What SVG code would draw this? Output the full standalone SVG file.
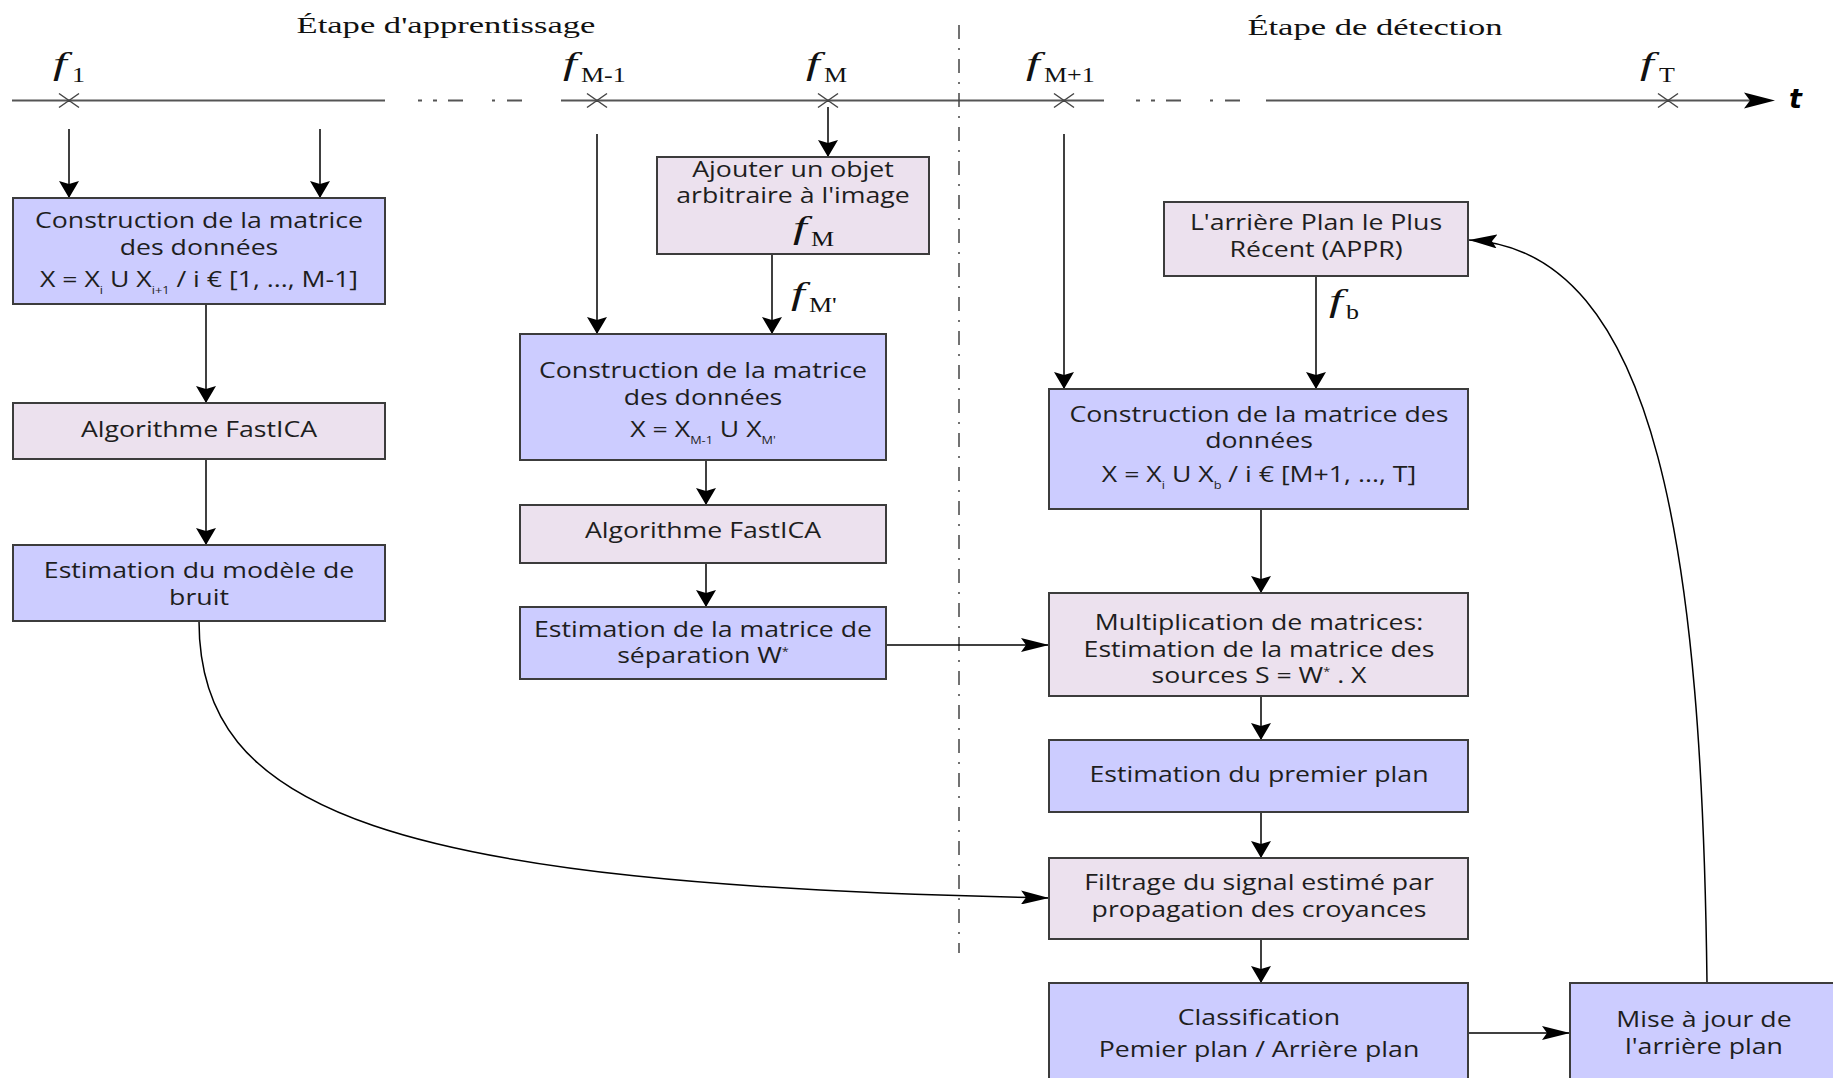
<svg xmlns="http://www.w3.org/2000/svg" width="1833" height="1078" viewBox="0 0 1833 1078">
<style>
.blue{fill:#ccccff;stroke:#3c3c3c;stroke-width:2}
.pink{fill:#ece1ee;stroke:#3c3c3c;stroke-width:2}
.t{font-family:"Open Sans",sans-serif;font-size:21px;fill:#1e1e1e;text-anchor:middle}
.sub{font-size:10px}
.title{font-family:"Liberation Serif",serif;font-size:24px;fill:#111;text-anchor:middle}
.fi{font-family:"Liberation Serif",serif;font-style:italic;font-size:31px;fill:#111}
.ms{font-family:"Liberation Serif",serif;font-size:20px;fill:#111}
.conn{stroke:#000;stroke-width:1.5;fill:none}
.tl{stroke:#555;stroke-width:2;fill:none}
.cross{stroke:#444;stroke-width:1.5}
.sep{stroke:#444;stroke-width:1.5;stroke-dasharray:14 9 2 9;fill:none}
</style>
<defs>
<marker id="arrV" markerUnits="userSpaceOnUse" markerWidth="17" markerHeight="20" viewBox="0 0 17 20" refX="17" refY="10" orient="auto"><path d="M0,0 L17,10 L0,20 L3,10 Z" fill="#000"/></marker>
<marker id="arrH" markerUnits="userSpaceOnUse" markerWidth="28" markerHeight="14" viewBox="0 0 28 14" refX="28" refY="7" orient="auto"><path d="M0,0 L28,7 L0,14 L5,7 Z" fill="#000"/></marker>
</defs>

<g id="titles">
<text class="title" transform="translate(446 0) scale(1.44 1)" x="0" y="33">Étape d'apprentissage</text>
<text class="title" transform="translate(1375 0) scale(1.44 1)" x="0" y="35">Étape de détection</text>
</g>

<g id="timeline">
<path class="tl" d="M12,100.5 H385 M418,100.5 H422 M433,100.5 H437 M448,100.5 H463 M492,100.5 H495 M507,100.5 H522 M561,100.5 H1104 M1136,100.5 H1140 M1151,100.5 H1155 M1166,100.5 H1181 M1210,100.5 H1213 M1225,100.5 H1240 M1266,100.5 H1752"/>
<polygon points="1744,92.5 1775,100.5 1744,108.5 1750,100.5" fill="#000"/>
<text transform="translate(1789 108)" style="font-family:'DejaVu Sans',sans-serif;font-size:27px;font-weight:bold;font-style:italic;fill:#000">t</text>
<path class="cross" d="M59,93.5 L79,107.5 M79,93.5 L59,107.5 M587,93.5 L607,107.5 M607,93.5 L587,107.5 M818,93.5 L838,107.5 M838,93.5 L818,107.5 M1054,93.5 L1074,107.5 M1074,93.5 L1054,107.5 M1658,93.5 L1678,107.5 M1678,93.5 L1658,107.5"/>
<text class="fi" transform="translate(53 74) scale(1.6 1)">f</text><text class="ms" transform="translate(72 82) scale(1.3 1)">1</text>
<text class="fi" transform="translate(563 74) scale(1.6 1)">f</text><text class="ms" transform="translate(581 82) scale(1.3 1)">M-1</text>
<text class="fi" transform="translate(806 74) scale(1.6 1)">f</text><text class="ms" transform="translate(824 82) scale(1.3 1)">M</text>
<text class="fi" transform="translate(1026 74) scale(1.6 1)">f</text><text class="ms" transform="translate(1044 82) scale(1.3 1)">M+1</text>
<text class="fi" transform="translate(1640 74) scale(1.6 1)">f</text><text class="ms" transform="translate(1659 82) scale(1.3 1)">T</text>
<path class="sep" d="M959,25 V953"/>
</g>

<g id="connectors">
<path class="conn" d="M69,129 V198" marker-end="url(#arrV)"/>
<path class="conn" d="M320,129 V198" marker-end="url(#arrV)"/>
<path class="conn" d="M206,304 V403" marker-end="url(#arrV)"/>
<path class="conn" d="M206,459 V545" marker-end="url(#arrV)"/>
<path class="conn" d="M199,621 C199,810 380,885 1049,898" marker-end="url(#arrH)"/>
<path class="conn" d="M597,134 V334" marker-end="url(#arrV)"/>
<path class="conn" d="M828,107 V157" marker-end="url(#arrV)"/>
<path class="conn" d="M772,254 V334" marker-end="url(#arrV)"/>
<path class="conn" d="M706,460 V505" marker-end="url(#arrV)"/>
<path class="conn" d="M706,563 V607" marker-end="url(#arrV)"/>
<path class="conn" d="M886,645 H1049" marker-end="url(#arrH)"/>
<path class="conn" d="M1064,134 V389" marker-end="url(#arrV)"/>
<path class="conn" d="M1316,276 V389" marker-end="url(#arrV)"/>
<path class="conn" d="M1261,509 V593" marker-end="url(#arrV)"/>
<path class="conn" d="M1261,696 V740" marker-end="url(#arrV)"/>
<path class="conn" d="M1261,812 V858" marker-end="url(#arrV)"/>
<path class="conn" d="M1261,939 V983" marker-end="url(#arrV)"/>
<path class="conn" d="M1468,1033 H1570" marker-end="url(#arrH)"/>
<path class="conn" d="M1707,983 C1702,560 1660,250 1469,240" marker-end="url(#arrH)"/>
<text class="fi" transform="translate(791 304) scale(1.6 1)">f</text><text class="ms" transform="translate(809 312) scale(1.3 1)">M'</text>
<text class="fi" transform="translate(1329 311) scale(1.6 1)">f</text><text class="ms" transform="translate(1346 319) scale(1.3 1)">b</text>
</g>

<g id="n-construction1">
<rect class="blue" x="13" y="198" width="372" height="106"/>
<text class="t" transform="translate(199 0) scale(1.27 1)"><tspan x="0" y="228">Construction de la matrice</tspan><tspan x="0" y="255">des données</tspan><tspan x="0" y="287">X = X<tspan class="sub" dy="7">i</tspan><tspan dy="-7"> U X</tspan><tspan class="sub" dy="7">i+1</tspan><tspan dy="-7"> / i € [1, ..., M-1]</tspan></tspan></text>
</g>
<g id="n-fastica1">
<rect class="pink" x="13" y="403" width="372" height="56"/>
<text class="t" transform="translate(199 0) scale(1.27 1)"><tspan x="0" y="437">Algorithme FastICA</tspan></text>
</g>
<g id="n-bruit">
<rect class="blue" x="13" y="545" width="372" height="76"/>
<text class="t" transform="translate(199 0) scale(1.27 1)"><tspan x="0" y="578">Estimation du modèle de</tspan><tspan x="0" y="605">bruit</tspan></text>
</g>

<g id="n-ajouter">
<rect class="pink" x="657" y="157" width="272" height="97"/>
<text class="t" transform="translate(793 0) scale(1.27 1)"><tspan x="0" y="177">Ajouter un objet</tspan><tspan x="0" y="203">arbitraire à l'image</tspan></text>
<text class="fi" transform="translate(793 238) scale(1.6 1)">f</text><text class="ms" transform="translate(811 246) scale(1.3 1)">M</text>
</g>
<g id="n-construction2">
<rect class="blue" x="520" y="334" width="366" height="126"/>
<text class="t" transform="translate(703 0) scale(1.27 1)"><tspan x="0" y="378">Construction de la matrice</tspan><tspan x="0" y="405">des données</tspan><tspan x="0" y="437">X = X<tspan class="sub" dy="7">M-1</tspan><tspan dy="-7"> U X</tspan><tspan class="sub" dy="7">M'</tspan></tspan></text>
</g>
<g id="n-fastica2">
<rect class="pink" x="520" y="505" width="366" height="58"/>
<text class="t" transform="translate(703 0) scale(1.27 1)"><tspan x="0" y="538">Algorithme FastICA</tspan></text>
</g>
<g id="n-separation">
<rect class="blue" x="520" y="607" width="366" height="72"/>
<text class="t" transform="translate(703 0) scale(1.27 1)"><tspan x="0" y="637">Estimation de la matrice de</tspan><tspan x="0" y="663">séparation W<tspan class="sub" dy="-8">*</tspan></tspan></text>
</g>

<g id="n-appr">
<rect class="pink" x="1164" y="202" width="304" height="74"/>
<text class="t" transform="translate(1316 0) scale(1.27 1)"><tspan x="0" y="230">L'arrière Plan le Plus</tspan><tspan x="0" y="257">Récent (APPR)</tspan></text>
</g>
<g id="n-construction3">
<rect class="blue" x="1049" y="389" width="419" height="120"/>
<text class="t" transform="translate(1259 0) scale(1.27 1)"><tspan x="0" y="422">Construction de la matrice des</tspan><tspan x="0" y="448">données</tspan><tspan x="0" y="482">X = X<tspan class="sub" dy="7">i</tspan><tspan dy="-7"> U X</tspan><tspan class="sub" dy="7">b</tspan><tspan dy="-7"> / i € [M+1, ..., T]</tspan></tspan></text>
</g>
<g id="n-multiplication">
<rect class="pink" x="1049" y="593" width="419" height="103"/>
<text class="t" transform="translate(1259 0) scale(1.27 1)"><tspan x="0" y="630">Multiplication de matrices:</tspan><tspan x="0" y="657">Estimation de la matrice des</tspan><tspan x="0" y="683">sources S = W<tspan class="sub" dy="-8">*</tspan><tspan dy="8"> . X</tspan></tspan></text>
</g>
<g id="n-premier">
<rect class="blue" x="1049" y="740" width="419" height="72"/>
<text class="t" transform="translate(1259 0) scale(1.27 1)"><tspan x="0" y="782">Estimation du premier plan</tspan></text>
</g>
<g id="n-filtrage">
<rect class="pink" x="1049" y="858" width="419" height="81"/>
<text class="t" transform="translate(1259 0) scale(1.27 1)"><tspan x="0" y="890">Filtrage du signal estimé par</tspan><tspan x="0" y="917">propagation des croyances</tspan></text>
</g>
<g id="n-classification">
<rect class="blue" x="1049" y="983" width="419" height="110"/>
<text class="t" transform="translate(1259 0) scale(1.27 1)"><tspan x="0" y="1025">Classification</tspan><tspan x="0" y="1057">Pemier plan / Arrière plan</tspan></text>
</g>
<g id="n-miseajour">
<rect class="blue" x="1570" y="983" width="280" height="110"/>
<text class="t" transform="translate(1704 0) scale(1.27 1)"><tspan x="0" y="1027">Mise à jour de</tspan><tspan x="0" y="1054">l'arrière plan</tspan></text>
</g>
</svg>
